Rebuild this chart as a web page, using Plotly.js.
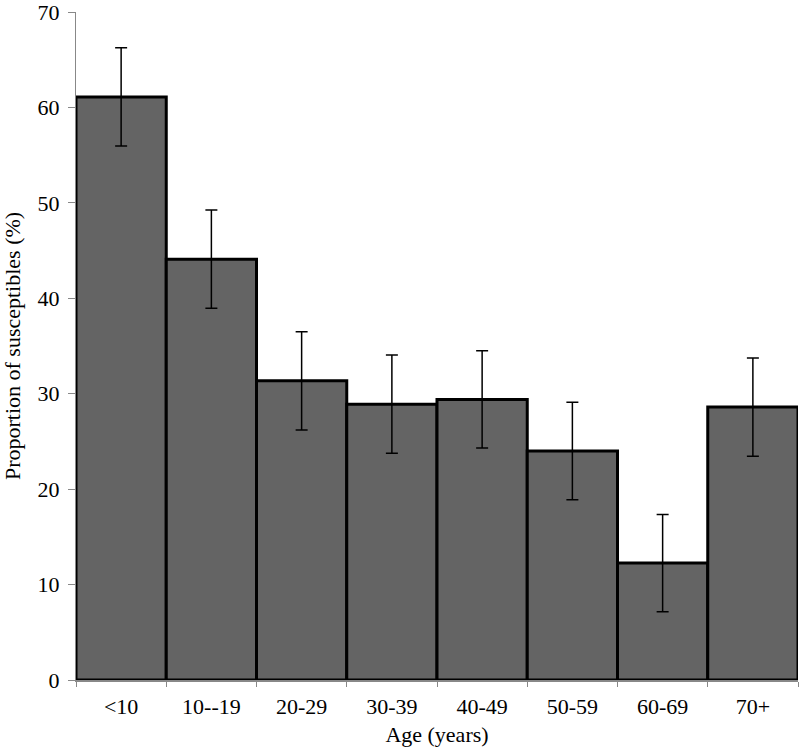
<!DOCTYPE html>
<html>
<head>
<meta charset="utf-8">
<script src="https://cdn.plot.ly/plotly-3.0.1.min.js"></script>
<style>html,body{margin:0;padding:0;background:#fff;}#chart{width:800px;height:748px;}</style>
</head>
<body>
<div id="chart"></div>
<script>
const categories = ["<10", "10--19", "20-29", "30-39", "40-49", "50-59", "60-69", "70+"];
const proportions = [61.1, 44.1, 31.35, 28.9, 29.4, 24.0, 12.25, 28.6];
const errors = [5.15, 5.15, 5.15, 5.15, 5.1, 5.1, 5.1, 5.15];
const yTicks = [0, 10, 20, 30, 40, 50, 60, 70];

const serif = "Liberation Serif, Times New Roman, serif";

Plotly.newPlot("chart", [{
  type: "bar",
  x: categories,
  y: proportions,
  marker: {color: "#646464", line: {color: "#000000", width: 3}},
  error_y: {type: "data", array: errors, visible: true, color: "#000000", thickness: 1.5, width: 6},
  hoverinfo: "x+y"
}], {
  width: 800,
  height: 748,
  margin: {l: 76, r: 2, t: 12, b: 68},
  paper_bgcolor: "#ffffff",
  plot_bgcolor: "#ffffff",
  bargap: 0,
  showlegend: false,
  font: {family: serif, color: "#000000", size: 22},
  xaxis: {
    type: "category",
    tickvals: categories,
    ticktext: categories,
    tickson: "boundaries",
    ticks: "outside",
    ticklen: 5,
    tickcolor: "#888888",
    showline: true,
    linecolor: "#888888",
    linewidth: 1.5,
    showgrid: false,
    zeroline: false,
    ticklabeloverflow: "allow",
    ticklabelstandoff: 6,
    tickfont: {family: serif, size: 22, color: "#000000"},
    title: {text: "Age (years)", font: {family: serif, size: 22, color: "#000000"}, standoff: 8}
  },
  yaxis: {
    range: [0, 70],
    tickvals: yTicks,
    ticks: "outside",
    ticklen: 7,
    tickcolor: "#888888",
    showline: true,
    linecolor: "#888888",
    linewidth: 1,
    showgrid: false,
    zeroline: false,
    ticklabeloverflow: "allow",
    ticklabelstandoff: 4,
    tickfont: {family: serif, size: 22, color: "#000000"},
    title: {text: "Proportion of susceptibles (%)", font: {family: serif, size: 22, color: "#000000"}, standoff: 19}
  }
}, {displayModeBar: false, staticPlot: true});
</script>
</body>
</html>
